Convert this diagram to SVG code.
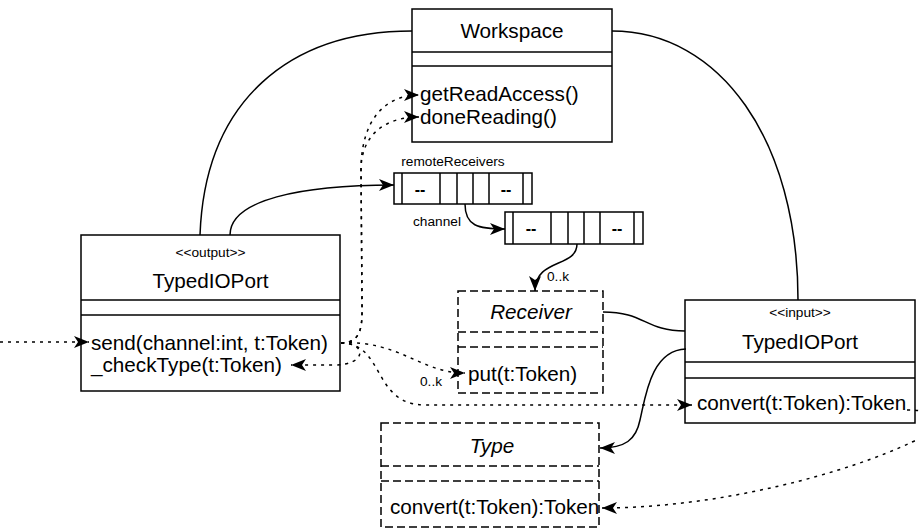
<svg xmlns="http://www.w3.org/2000/svg" width="919" height="529" viewBox="0 0 919 529">
<style>
.box{fill:#fff;stroke:#000;stroke-width:1.5}
.dbox{fill:#fff;stroke:#000;stroke-width:1.5;stroke-dasharray:8 4}
.ln{stroke:#000;stroke-width:1.5;fill:none}
.dln{stroke:#000;stroke-width:1.5;fill:none;stroke-dasharray:8 4}
.t{font-family:"Liberation Sans",Arial,sans-serif;font-size:20.7px;fill:#000}
.s{font-family:"Liberation Sans",Arial,sans-serif;font-size:13.7px;fill:#000}
.c{text-anchor:middle}
.i{font-style:italic}
.dash{font-family:"Liberation Sans",Arial,sans-serif;font-size:16px;font-weight:bold;text-anchor:middle}
.conn{fill:none;stroke:#000;stroke-width:1.5}
.dot{stroke-dasharray:3 5}
</style>
<defs>
<marker id="arr" markerUnits="userSpaceOnUse" markerWidth="16" markerHeight="14" viewBox="0 0 16 14" refX="15" refY="7" orient="auto">
<path d="M0,1 L15,7 L0,13 L4,7 Z" fill="#000"/>
</marker>
</defs>

<g id="workspace">
<rect class="box" x="412" y="9" width="200" height="133"/>
<line class="ln" x1="412" y1="52" x2="612" y2="52"/>
<line class="ln" x1="412" y1="66" x2="612" y2="66"/>
<text class="t c" x="512" y="38">Workspace</text>
<text class="t" x="420" y="101">getReadAccess()</text>
<text class="t" x="420" y="124">doneReading()</text>
</g>

<g id="outputPort">
<rect class="box" x="81" y="235" width="259" height="156"/>
<line class="ln" x1="81" y1="300" x2="340" y2="300"/>
<line class="ln" x1="81" y1="315" x2="340" y2="315"/>
<text class="s c" x="210.5" y="257">&lt;&lt;output&gt;&gt;</text>
<text class="t c" x="210.5" y="288">TypedIOPort</text>
<text class="t" x="91" y="350">send(channel:int, t:Token)</text>
<text class="t" x="91" y="372">_checkType(t:Token)</text>
</g>

<g id="remoteReceivers">
<rect class="box" x="394" y="173" width="138" height="31"/>
<line class="ln" x1="402" y1="173" x2="402" y2="204"/>
<line class="ln" x1="440" y1="173" x2="440" y2="204"/>
<line class="ln" x1="457" y1="173" x2="457" y2="204"/>
<line class="ln" x1="473" y1="173" x2="473" y2="204"/>
<line class="ln" x1="489" y1="173" x2="489" y2="204"/>
<line class="ln" x1="523" y1="173" x2="523" y2="204"/>
<text class="dash" x="420" y="195">--</text>
<text class="dash" x="506" y="195">--</text>
<text class="s c" x="453" y="166">remoteReceivers</text>
</g>

<g id="channelArray">
<rect class="box" x="505" y="212" width="138" height="32"/>
<line class="ln" x1="513" y1="212" x2="513" y2="244"/>
<line class="ln" x1="551" y1="212" x2="551" y2="244"/>
<line class="ln" x1="568" y1="212" x2="568" y2="244"/>
<line class="ln" x1="584" y1="212" x2="584" y2="244"/>
<line class="ln" x1="600" y1="212" x2="600" y2="244"/>
<line class="ln" x1="634" y1="212" x2="634" y2="244"/>
<text class="dash" x="531" y="234">--</text>
<text class="dash" x="617" y="234">--</text>
</g>

<g id="receiver">
<rect class="dbox" x="458" y="291" width="145" height="102"/>
<line class="dln" x1="458" y1="332" x2="603" y2="332"/>
<line class="dln" x1="458" y1="347" x2="603" y2="347"/>
<text class="t c i" x="531" y="319">Receiver</text>
<text class="t" x="468" y="381">put(t:Token)</text>
</g>

<g id="inputPort">
<rect class="box" x="685" y="300" width="230" height="123"/>
<line class="ln" x1="685" y1="362" x2="915" y2="362"/>
<line class="ln" x1="685" y1="378" x2="915" y2="378"/>
<text class="s c" x="800" y="317">&lt;&lt;input&gt;&gt;</text>
<text class="t c" x="800" y="349">TypedIOPort</text>
<text class="t" x="697" y="410">convert(t:Token):Token</text>
</g>

<g id="type">
<rect class="dbox" x="381" y="423" width="218" height="104"/>
<line class="dln" x1="381" y1="466" x2="599" y2="466"/>
<line class="dln" x1="381" y1="481" x2="599" y2="481"/>
<text class="t c i" x="492" y="453">Type</text>
<text class="t" x="390" y="514">convert(t:Token):Token</text>
</g>

<g id="connectors">
<path class="conn" d="M200,235 C205,100 290,31 412,31"/>
<path class="conn" d="M612,31 C720,31 798,140 798,300"/>
<path class="conn" d="M230,235 C230,200 300,185 394,185" marker-end="url(#arr)"/>
<path class="conn" d="M465,204 C465,226 478,229 505,229" marker-end="url(#arr)"/>
<path class="conn" d="M577,244 C577,268 535,258 535,291" marker-end="url(#arr)"/>
<path class="conn" d="M603,312 C645,312 645,331 685,331"/>
<path class="conn" d="M686,349 C650,350 645,400 640,420 C636,440 625,448 600,448" marker-end="url(#arr)"/>
<path class="conn dot" d="M0,342 L89,342" marker-end="url(#arr)"/>
<path class="conn dot" d="M341,343 C364,343 362,322 362,300 L361,170 C361,120 385,95 419,95" marker-end="url(#arr)"/>
<path class="conn dot" d="M341,343 C364,343 362,322 362,300 L361,170 C361,135 385,117 419,117" marker-end="url(#arr)"/>
<path class="conn dot" d="M341,343 C368,343 366,365 335,365 L291,365" marker-end="url(#arr)"/>
<path class="conn dot" d="M341,343 C400,340 420,373 465,373" marker-end="url(#arr)"/>
<path class="conn dot" d="M341,343 C385,343 372,405 425,405 L692,405" marker-end="url(#arr)"/>
<path class="conn dot" d="M907,410 C950,410 940,430 912,442 C850,472 720,508 602,508" marker-end="url(#arr)"/>
<text class="s" x="547" y="281">0..k</text>
<text class="s" x="420" y="386">0..k</text>
<text class="s" x="413" y="226">channel</text>
</g>
</svg>
